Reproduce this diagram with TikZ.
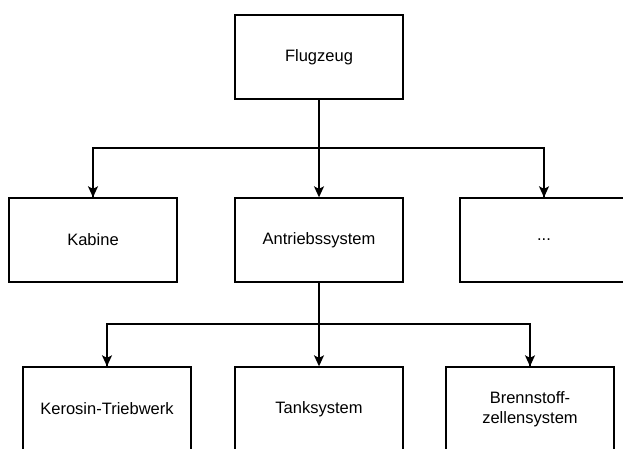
\documentclass[tikz,border=0pt]{standalone}
\usepackage{fontspec}
\setmainfont{Liberation Sans}
\usetikzlibrary{arrows.meta}
\begin{document}
\begin{tikzpicture}[x=1pt,y=-1pt,
  box/.style={draw=black, line width=1.4pt, fill=white, minimum width=168pt, minimum height=84pt,
    inner sep=0pt, align=center, font=\fontsize{16.5pt}{20pt}\selectfont},
  wire/.style={line width=1.4pt, line join=miter},
  link/.style={wire, -{Stealth[length=11pt,width=10pt,inset=2.5pt]}}]
  \useasboundingbox (0,0) rectangle (623,448);
  % top level
  \node[box] (flug) at (319,57) {Flugzeug};
  % second level
  \node[box] (kab)  at (93,240) {Kabine};
  \node[box] (antr) at (319,240) {Antriebssystem};
  \node[box] (more) at (544,240) {...};
  % third level
  \node[box] (ker)  at (107,409) {Kerosin-Triebwerk};
  \node[box] (tank) at (319,409) {Tanksystem};
  \node[box] (bren) at (530,409) {Brennstoff-\\zellensystem};
  % bus rows
  \coordinate (busA) at (319,148);
  \coordinate (busB) at (319,324);
  \coordinate (kabT)  at (kab.north  |- busA);
  \coordinate (moreT) at (more.north |- busA);
  \coordinate (kerT)  at (ker.north  |- busB);
  \coordinate (brenT) at (bren.north |- busB);
  % buses
  \draw[wire] (kab.north) -- (kabT) -- (moreT) -- (more.north);
  \draw[wire] (ker.north) -- (kerT) -- (brenT) -- (bren.north);
  % connectors
  \draw[link] (flug.south) -- (antr.north);
  \draw[link] (kabT) -- (kab.north);
  \draw[link] (moreT) -- (more.north);
  \draw[link] (antr.south) -- (tank.north);
  \draw[link] (kerT) -- (ker.north);
  \draw[link] (brenT) -- (bren.north);
\end{tikzpicture}
\end{document}
